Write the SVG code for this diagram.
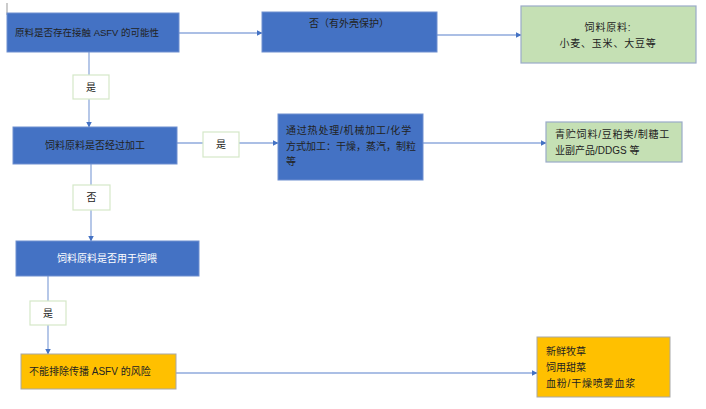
<svg xmlns="http://www.w3.org/2000/svg" width="706" height="409" viewBox="0 0 706 409">
<defs>
<style>
text{font-family:"Liberation Sans","Noto Sans CJK SC",sans-serif;font-size:10px;fill:#222}
.blue{fill:#4472C4;stroke:#6E8FD0;stroke-width:1}
.green{fill:#C5E0B4;stroke:#9AABC8;stroke-width:1.2}
.orange{fill:#FFC000;stroke:#A8A8A8;stroke-width:1}
.lbl{fill:#fff;stroke:#D5E8C8;stroke-width:1.2}
.con{fill:none;stroke:#8FAADC;stroke-width:1.3}
.w{fill:#fff}
.c{text-anchor:middle}
.sp{letter-spacing:0.8px}
.s1{font-size:9.5px}
</style>
<marker id="ah" viewBox="0 0 6 6" refX="5.5" refY="3" markerWidth="6" markerHeight="6" orient="auto" markerUnits="userSpaceOnUse">
<path d="M0,0 L6,3 L0,6 z" fill="#4472C4"/>
</marker>
</defs>
<rect width="706" height="409" fill="#fff"/>
<line x1="7" y1="3" x2="7" y2="15" stroke="#999" stroke-width="1"/>
<g id="connectors">
<line class="con" x1="179" y1="33" x2="262" y2="33" marker-end="url(#ah)"/>
<line class="con" x1="437" y1="35" x2="521" y2="35" marker-end="url(#ah)"/>
<line class="con" x1="89" y1="52" x2="89" y2="127" marker-end="url(#ah)"/>
<line class="con" x1="177" y1="143" x2="278" y2="143" marker-end="url(#ah)"/>
<line class="con" x1="423" y1="143" x2="546" y2="143" marker-end="url(#ah)"/>
<line class="con" x1="91" y1="164" x2="91" y2="241" marker-end="url(#ah)"/>
<line class="con" x1="48" y1="276" x2="48" y2="354" marker-end="url(#ah)"/>
<line class="con" x1="176" y1="373" x2="537" y2="373" marker-end="url(#ah)"/>
</g>
<g id="lbl1"><rect class="lbl" x="73" y="75" width="36" height="24"/><text class="c" x="91" y="90.5">是</text></g>
<g id="lbl2"><rect class="lbl" x="203" y="132" width="36" height="25"/><text class="c" x="221" y="147.5">是</text></g>
<g id="lbl3"><rect class="lbl" x="73" y="185" width="37" height="25"/><text class="c" x="91.5" y="200.5">否</text></g>
<g id="lbl4"><rect class="lbl" x="30" y="301" width="36" height="24"/><text class="c" x="48" y="316.5">是</text></g>
<g id="n1"><rect class="blue" x="7" y="13" width="172" height="39"/><text class="s1" x="15" y="36">原料是否存在接触 ASFV 的可能性</text></g>
<g id="n2"><rect class="blue" x="262" y="12" width="175" height="40"/><text class="c" x="349" y="27">否（有外壳保护）</text></g>
<g id="n3"><rect class="green" x="521" y="6" width="175" height="57"/><text class="c sp" x="608" y="31">饲料原料:</text><text class="c sp" x="608" y="47">小麦、玉米、大豆等</text></g>
<g id="n4"><rect class="blue" x="13" y="127" width="164" height="37"/><text class="c" x="95" y="149">饲料原料是否经过加工</text></g>
<g id="n5"><rect class="blue" x="278" y="114" width="145" height="66"/><text class="sp" x="286" y="134">通过热处理/机械加工/化学</text><text x="286" y="150">方式加工：干燥，蒸汽，制粒</text><text x="286" y="165">等</text></g>
<g id="n6"><rect class="green" x="546" y="122" width="136" height="40"/><text class="sp" x="555" y="138">青贮饲料/豆粕类/制糖工</text><text x="555" y="154">业副产品/DDGS 等</text></g>
<g id="n7"><rect class="blue" x="16" y="241" width="183" height="35"/><text class="c w" x="107" y="262">饲料原料是否用于饲喂</text></g>
<g id="n8"><rect class="orange" x="21" y="354" width="155" height="35"/><text x="29" y="375">不能排除传播 ASFV 的风险</text></g>
<g id="n9"><rect class="orange" x="537" y="337" width="133" height="60"/><text x="546" y="355">新鲜牧草</text><text x="546" y="371">饲用甜菜</text><text class="sp" x="546" y="387">血粉/干燥喷雾血浆</text></g>
</svg>
